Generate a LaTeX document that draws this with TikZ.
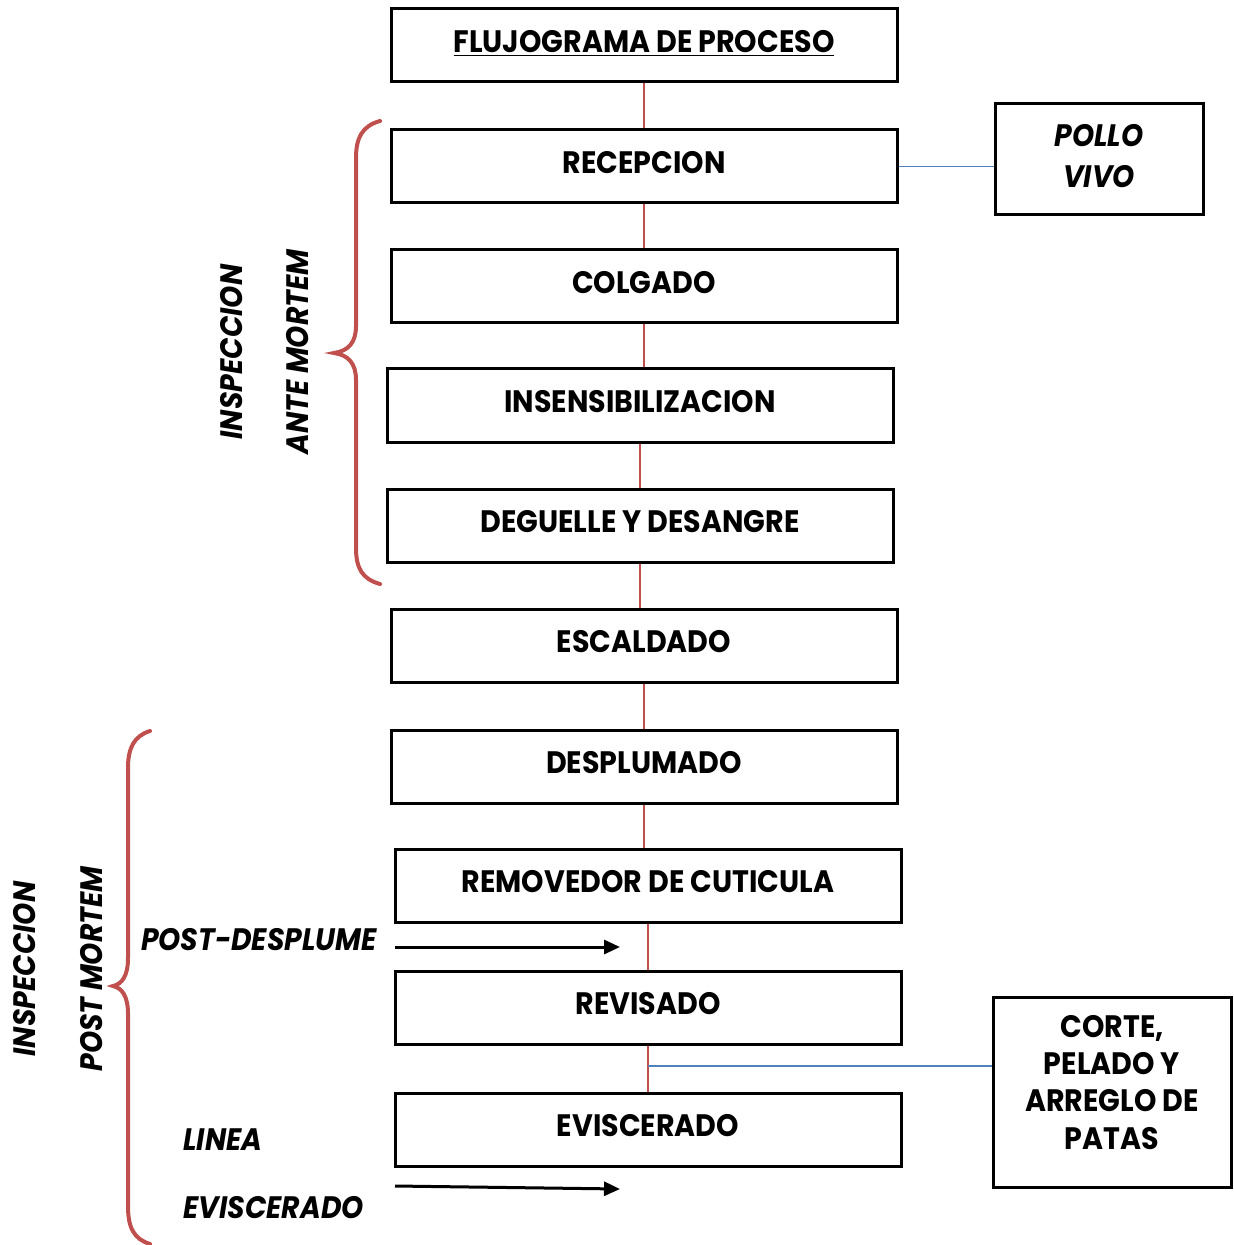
\documentclass[tikz,border=0pt]{standalone}
\usepackage{fontspec}
\setmainfont{Poppins}[BoldFeatures={FakeStretch=0.92}, BoldItalicFeatures={FakeStretch=0.91}]
\usepackage{tikz}
\usetikzlibrary{arrows.meta, calc}
\definecolor{rojo}{RGB}{192,80,77}
\definecolor{azul}{RGB}{79,129,189}

\begin{document}
\begin{tikzpicture}[x=0.5pt, y=-0.5pt,
  paso/.style={rectangle, draw, line width=1.5pt, minimum width=253pt, minimum height=36.5pt, inner sep=0pt, text height=11pt, text depth=4pt, font=\fontsize{15.5}{18}\selectfont\bfseries},
  caja/.style={rectangle, draw, line width=1.5pt, inner sep=0pt, text depth=0pt},
  etiq/.style={inner sep=0pt, font=\fontsize{15.5}{18}\selectfont\bfseries\itshape},
  linea/.style={rojo, line width=1pt},
  enlace/.style={azul, line width=0.8pt},
  llave/.style={rojo, line width=2pt, line cap=round},
  flecha/.style={line width=1.5pt, -{Triangle[length=8pt, width=7pt]}}]
\useasboundingbox (0,0) rectangle (1233,1245);
% pasos del proceso
\node[paso] (titulo) at (644,45.5) {\underline{FLUJOGRAMA DE PROCESO}};
\node[paso] (recep) at (644,166.5) {RECEPCION};
\node[paso] (colgado) at (644,286.5) {COLGADO};
\node[paso] (insens) at (640,405.5) {INSENSIBILIZACION};
\node[paso] (deguelle) at (640,525.5) {DEGUELLE Y DESANGRE};
\node[paso] (escaldado) at (644,645.5) {ESCALDADO};
\node[paso] (desplum) at (644,766.5) {DESPLUMADO};
\node[paso] (removedor) at (648,885.5) {REMOVEDOR DE CUTICULA};
\node[paso] (revisado) at (648,1007.5) {REVISADO};
\node[paso] (evisc) at (648,1129.5) {EVISCERADO};
\node[caja, text height=7pt, minimum width=104pt, minimum height=55.5pt, font=\fontsize{15.5}{20.5}\selectfont\bfseries\itshape] (pollo) at (1099,159.5) {\begin{tabular}{@{}c@{}}POLLO\\VIVO\end{tabular}};
\node[caja, text height=1pt, minimum width=119pt, minimum height=95pt, font=\fontsize{15.5}{18.7}\selectfont\bfseries] (corte) at (1112,1092) {\begin{tabular}{@{}c@{}}CORTE,\\PELADO Y\\ARREGLO DE\\PATAS\end{tabular}};
% etiquetas
\node[etiq, rotate=90] (insp1) at (232,352) {INSPECCION};
\node[etiq, rotate=90] (ante) at (298,352) {ANTE MORTEM};
\node[etiq, rotate=90] (insp2) at (25,969) {INSPECCION};
\node[etiq, rotate=90] (post) at (92,969) {POST MORTEM};
\node[etiq] (postdes) at (259,940) {POST-DESPLUME};
\node[etiq, anchor=west] (lin) at (183,1140) {LINEA};
\node[etiq, anchor=west] (linevisc) at (183,1208) {EVISCERADO};
% uniones
\foreach \a/\b in {titulo/recep, recep/colgado, colgado/insens, insens/deguelle, deguelle/escaldado, escaldado/desplum, desplum/removedor, removedor/revisado, revisado/evisc}
  \draw[linea] (\a.south) -- (\a.south |- \b.north);
\coordinate (medio) at ($(revisado.south)!0.45!(evisc.north)$);
\draw[enlace] (recep.east) -- (recep.east -| pollo.west);
\draw[enlace] (medio) -- (medio -| corte.west);
% flechas
\coordinate (pd1) at (395,947);
\coordinate (pd2) at (620,947);
\coordinate (ev1) at (395,1186);
\coordinate (ev2) at (620,1189);
\draw[flecha] (pd1) -- (pd2);
\draw[flecha] (ev1) -- (ev2);
% llaves
\draw[llave] (380,121) .. controls (362,126) and (356,138) .. (356,158) -- (356,326) .. controls (356,343) and (348,351) .. (334,353) .. controls (348,355) and (356,363) .. (356,380) -- (356,548) .. controls (356,568) and (362,579) .. (380,584);
\draw[llave] (150,731) .. controls (134,736) and (128,748) .. (128,768) -- (128,958) .. controls (128,976) and (122,984) .. (113,986) .. controls (122,988) and (128,996) .. (128,1014) -- (128,1206) .. controls (128,1228) and (134,1239) .. (150,1244);
\end{tikzpicture}
\end{document}
